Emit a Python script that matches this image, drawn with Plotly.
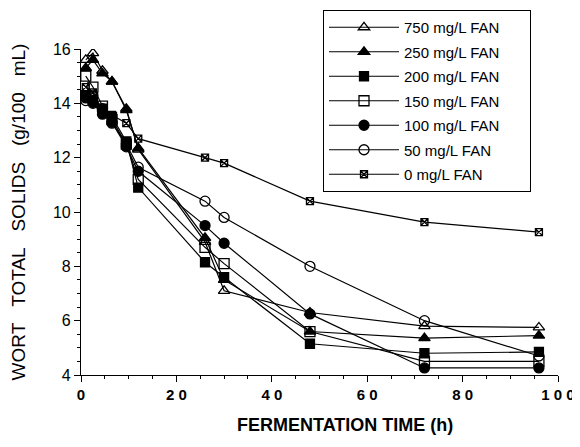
import plotly.graph_objects as go

times = [1, 2.5, 4.5, 6.5, 9.5, 12, 26, 30, 48, 72, 96]

series_names = ["750 mg/L FAN", "250 mg/L FAN", "200 mg/L FAN", "150 mg/L FAN",
                "100 mg/L FAN", "50 mg/L FAN", "0 mg/L FAN"]
fan_750 = [15.6, 15.85, 15.2, 14.8, 13.8, 12.3, 8.9, 7.1, 6.3, 5.8, 5.75]
fan_250 = [15.3, 15.6, 15.1, 14.8, 13.75, 12.35, 9.05, 7.5, 5.6, 5.36, 5.45]
fan_200 = [14.3, 14.1, 13.8, 13.5, 12.6, 10.9, 8.15, 7.6, 5.15, 4.8, 4.85]
fan_150 = [15.0, 14.6, 13.9, 13.4, 12.5, 11.2, 8.7, 8.1, 5.6, 4.5, 4.5]
fan_100 = [14.2, 14.0, 13.6, 13.3, 12.4, 11.5, 9.5, 8.85, 6.25, 4.26, 4.26]
fan_50 = [14.1, 14.3, 13.8, 13.27, 12.5, 11.65, 10.4, 9.8, 8.0, 6.0, 4.7]
fan_0 = [14.6, 14.4, 13.64, 13.57, 13.27, 12.7, 12.0, 11.8, 10.4, 9.63, 9.26]

x_tickvals = [0, 20, 40, 60, 80, 100]
x_ticktext = ["0", "2\u00a00", "4\u00a00", "6\u00a00", "8\u00a00", "1\u00a00\u00a00"]
y_tickvals = [4, 6, 8, 10, 12, 14, 16]

all_values = [fan_750, fan_250, fan_200, fan_150, fan_100, fan_50, fan_0]
symbols = ["triangle-up-open", "triangle-up", "square", "square-open",
           "circle", "circle-open", "square-x-open"]
sizes = [10, 10, 9, 10, 10, 10, 7]

FONT = "Liberation Sans, Arial, sans-serif"
PAD = "\u00a0" * 6
SP = "\u00a0" * 3
TAIL = "\u00a0" * 4

# page body has an 8px margin; plot area on screen: x 81..558, y 49..375
fig = go.Figure()
for i, (name, vals) in enumerate(zip(series_names, all_values)):
    fig.add_trace(go.Scatter(
        x=times, y=vals, name=name + PAD, mode="lines+markers",
        legendgroup=f"g{i}",
        line=dict(color="black", width=1.2),
        marker=dict(symbol=symbols[i], size=sizes[i], color="black",
                    line=dict(color="black", width=1.3)),
    ))

fig.add_annotation(
    text="FERMENTATION TIME (h)", xref="paper", yref="paper",
    x=(345 - 81) / 477, y=-(425 - 375) / 326, xanchor="center", yanchor="middle",
    showarrow=False, font=dict(size=18, family=FONT, weight="bold", color="black"),
)

fig.update_layout(
    width=580, height=447,
    margin=dict(l=73, r=30, t=41, b=80, autoexpand=False),
    paper_bgcolor="white", plot_bgcolor="white",
    font=dict(family=FONT, color="black"),
    showlegend=True,
    legend=dict(
        x=(323 - 81) / 477, y=1 + 39 / 326, xanchor="left", yanchor="top",
        bordercolor="black", borderwidth=1, bgcolor="white",
        font=dict(size=15, family=FONT),
        tracegroupgap=2,
        itemwidth=70,
    ),
    xaxis=dict(
        range=[0, 100], tickvals=x_tickvals, ticktext=x_ticktext,
        showline=True, linecolor="black", linewidth=1.2,
        ticks="outside", ticklen=6, tickwidth=1.2, tickcolor="black",
        minor=dict(dtick=5, ticks="outside", ticklen=3, tickcolor="black"),
        showgrid=False, zeroline=False,
        tickfont=dict(size=15, family=FONT, weight="bold"),
    ),
    yaxis=dict(
        range=[4, 16], tickvals=y_tickvals,
        showline=True, linecolor="black", linewidth=1.2,
        ticks="outside", ticklen=6, tickwidth=1.2, tickcolor="black",
        minor=dict(dtick=0.5, ticks="outside", ticklen=3, tickcolor="black"),
        showgrid=False, zeroline=False,
        tickfont=dict(size=16, family=FONT),
        title=dict(text="WORT" + SP + "TOTAL" + SP + "SOLIDS" + SP + "(g/100" + SP + "mL)" + TAIL,
                   standoff=24, font=dict(size=19, family=FONT)),
    ),
)

fig.write_html("out.html")
